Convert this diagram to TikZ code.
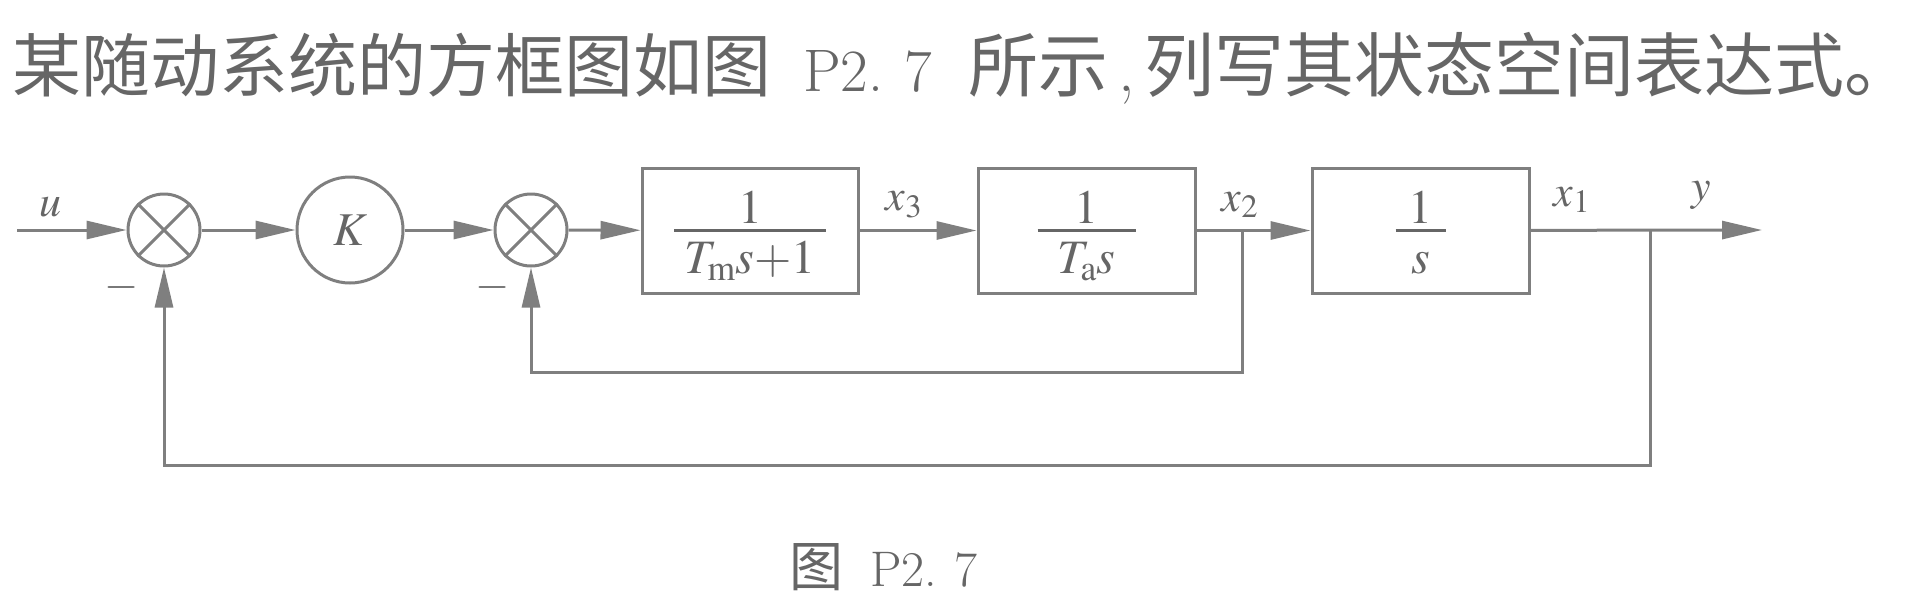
\documentclass[tikz,border=0pt]{standalone}
\usepackage[no-math]{fontspec}
\usepackage{mathptmx}
\setmainfont{Latin Modern Roman}
\newfontfamily\cjk{Noto Sans CJK SC}
\usetikzlibrary{arrows.meta}
\definecolor{lc}{HTML}{7F7F7F}
\definecolor{tc}{HTML}{666666}
\newcommand{\mfont}{\fontsize{44}{50}\selectfont}
\newcommand{\ffont}{\fontsize{48}{54}\selectfont}
% fraction: #1 numerator, #2 denominator, #3 bar width; bar centred on the box
\newcommand{\fr}[3]{\vbox{\offinterlineskip\halign{\hfil##\hfil\cr
  \vrule width 0pt height 47.5pt depth 0pt\ensuremath{#1}\cr
  \noalign{\kern 6.25pt}
  \hbox to #3{\leaders\hrule height 1.25pt depth 1.25pt\hfil}\cr
  \vrule width 0pt height 41.75pt depth 12pt\ensuremath{#2}\cr}}}
\tikzset{
  ln/.style={draw=lc, line width=3pt},
  arr/.style={ln, -{Triangle[length=40pt,width=18pt]}},
  sumnode/.style={circle, draw=lc, line width=3pt, minimum size=72pt, inner sep=0pt},
  gain/.style={circle, draw=lc, line width=3pt, minimum size=106pt, inner sep=0pt, text=tc, font=\fontsize{47}{52}\selectfont},
  blk/.style={rectangle, draw=lc, line width=3pt, minimum width=217pt, minimum height=125pt, inner sep=0pt, text=tc, font=\ffont},
  lbl/.style={inner sep=0pt, text=tc, font=\mfont},
  ttl/.style={inner sep=0pt, anchor=base west, text=tc, font=\cjk\fontsize{70}{80}\selectfont},
  ttllat/.style={inner sep=0pt, anchor=base west, text=tc, font=\fontsize{60}{70}\selectfont},
  captxt/.style={inner sep=0pt, anchor=base west, text=tc, font=\cjk\fontsize{54}{64}\selectfont},
  caplat/.style={inner sep=0pt, anchor=base west, text=tc, font=\fontsize{50}{60}\selectfont},
}
\begin{document}
\begin{tikzpicture}[x=1pt,y=-1pt]
\useasboundingbox (0,0) rectangle (1924,606);
% title
\node[ttl, font=\cjk\fontsize{69}{80}\selectfont] (t1) at (12,91) {某随动系统的方框图如图};
\node[ttllat] (t2) at (803,91) {P2.\hspace{0.35em}7};
\node[ttl] (t3) at (968,91) {所示};
\node[ttllat, font=\fontsize{66}{70}\selectfont] (t4) at (1118,91) {,};
\node[ttl] (t5) at (1144,91) {列写其状态空间表达式。};
% blocks
\node[sumnode] (s1) at (164,230) {};
\node[gain] (K) at (350,230) {$K$};
\node[sumnode] (s2) at (531,230) {};
\node[blk, minimum width=216pt] (b1) at (750,230.5) {\fr{1}{T_{\mathrm{m}}s{+}1}{152pt}};
\node[blk] (b2) at (1086.5,230.5) {\fr{1}{T_{\mathrm{a}}s}{98pt}};
\node[blk] (b3) at (1420.5,230.5) {\fr{1}{s}{50pt}};
\draw[ln] (s1.north west) -- (s1.south east) (s1.north east) -- (s1.south west);
\draw[ln] (s2.north west) -- (s2.south east) (s2.north east) -- (s2.south west);
% coordinates
\coordinate (in) at (17,230);
\coordinate (out) at (1762,230);
\coordinate (br2) at (1242,230);
\coordinate (br1) at (1650,230);
\coordinate (fb2) at (1242,372);
\coordinate (fb1) at (1650,465);
% connectors
\draw[arr] (in) -- (s1);
\draw[arr] (s1) -- (K);
\draw[arr] (K) -- (s2);
\draw[arr] (s2) -- (b1);
\draw[arr] (b1) -- (b2);
\draw[arr] (b2) -- (b3);
\draw[arr] (b3) -- (out);
\draw[arr] (br2) -- (fb2) -| (s2.south);
\draw[arr] (br1) -- (fb1) -| (s1.south);
% labels
\node[lbl] (lu) at (50,207) {$u$};
\node[lbl] (lx3) at (904,205) {$x_3$};
\node[lbl] (lx2) at (1240,205) {$x_2$};
\node[lbl] (lx1) at (1572,200) {$x_1$};
\node[lbl] (ly) at (1701,195) {$y$};
\node[lbl] (m1) at (122,287) {$-$};
\node[lbl] (m2) at (493,287) {$-$};
% caption
\node[captxt] (c1) at (789,586) {图};
\node[caplat] (c2) at (870,586) {P2.\hspace{0.35em}7};
\end{tikzpicture}
\end{document}
